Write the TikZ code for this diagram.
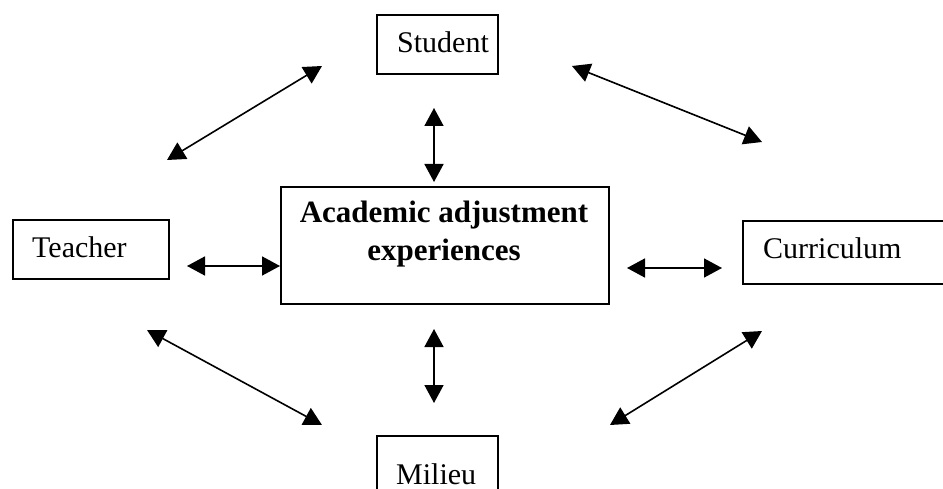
\documentclass[tikz,border=0pt]{standalone}
\usepackage{fontspec}
\setmainfont{Liberation Serif}
\usetikzlibrary{arrows.meta}
\begin{document}
\begin{tikzpicture}[x=1pt,y=-1pt,
  box/.style={draw, line width=2pt, inner sep=0pt, anchor=north west},
  lbl/.style={font=\fontsize{30}{36}\selectfont, inner sep=0pt, anchor=base west},
  link/.style={line width=1.6pt,
    {Triangle[length=18pt,width=19pt]}-{Triangle[length=18pt,width=19pt]}}]
\useasboundingbox (0,0) rectangle (943,489);

% boxes
\node[box, minimum width=328pt, minimum height=117pt] (center) at (280,186) {};
\node[box, minimum width=121pt, minimum height=59pt] (student) at (376,14) {};
\node[box, minimum width=156pt, minimum height=59pt] (teacher) at (12,219) {};
\node[box, minimum width=208pt, minimum height=63pt] (curriculum) at (742,220) {};
\node[box, minimum width=121pt, minimum height=65pt] (milieu) at (376,435) {};

% labels
\node[font=\bfseries\fontsize{31}{38}\selectfont, align=center, inner sep=0pt]
  (centertext) at (444,234) {Academic adjustment\\experiences};
\node[lbl] (studenttext) at (397,53) {Student};
\node[lbl] (teachertext) at (32,258) {Teacher};
\node[lbl] (curriculumtext) at (763,259) {Curriculum};
\node[lbl] (milieutext) at (396,484) {Milieu};

% arrow end points
\coordinate (st1) at (167,160);  \coordinate (st2) at (322,66);
\coordinate (sc1) at (434,108);  \coordinate (sc2) at (434,182);
\coordinate (su1) at (572,66);   \coordinate (su2) at (762,142);
\coordinate (tc1) at (187,266);  \coordinate (tc2) at (280,266);
\coordinate (cu1) at (627,268);  \coordinate (cu2) at (722,268);
\coordinate (tm1) at (147,330);  \coordinate (tm2) at (322,425);
\coordinate (cm1) at (434,329);  \coordinate (cm2) at (434,403);
\coordinate (um1) at (762,331);  \coordinate (um2) at (610,425);

% two-way arrows
\draw[link] (st1) -- (st2);
\draw[link] (sc1) -- (sc2);
\draw[link] (su1) -- (su2);
\draw[link] (tc1) -- (tc2);
\draw[link] (cu1) -- (cu2);
\draw[link] (tm1) -- (tm2);
\draw[link] (cm1) -- (cm2);
\draw[link] (um1) -- (um2);
\end{tikzpicture}
\end{document}
